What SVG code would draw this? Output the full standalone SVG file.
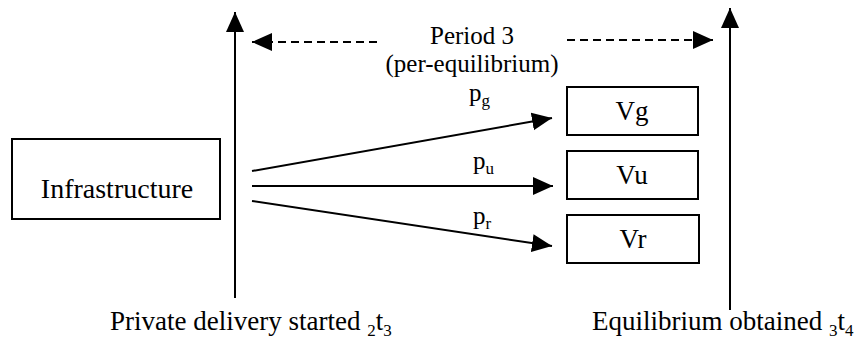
<svg xmlns="http://www.w3.org/2000/svg" width="854" height="354" viewBox="0 0 854 354" font-family="'Liberation Serif', 'DejaVu Serif', 'Times New Roman', serif">
<style>
text{font-family:'Liberation Serif','DejaVu Serif','Times New Roman',serif;fill:#000}
.lbl{font-size:27px}
.per{font-size:25px}
.p{font-size:25px}
.sub{font-size:17px}
.box{fill:#fff;stroke:#000;stroke-width:2}
.ln{stroke:#000;stroke-width:2;fill:none}
.dash{stroke:#000;stroke-width:2;fill:none;stroke-dasharray:8 5}
</style>
<defs>
<marker id="ah" viewBox="0 0 20 20" refX="20" refY="10" markerWidth="20" markerHeight="20" markerUnits="userSpaceOnUse" orient="auto">
<path d="M0,1 L20,10 L0,19 Z" fill="#000"/>
</marker>
</defs>
<rect width="854" height="354" fill="#fff"/>
<g id="connectors">
<line class="ln" x1="235" y1="298" x2="235" y2="12" marker-end="url(#ah)"/>
<line class="ln" x1="730" y1="310" x2="730" y2="8" marker-end="url(#ah)"/>
<line class="dash" x1="377" y1="42" x2="252" y2="42" marker-end="url(#ah)"/>
<line class="dash" x1="567" y1="40" x2="713" y2="40" marker-end="url(#ah)"/>
<line class="ln" x1="252" y1="171" x2="552" y2="118" marker-end="url(#ah)"/>
<line class="ln" x1="252" y1="186" x2="553" y2="186" marker-end="url(#ah)"/>
<line class="ln" x1="252" y1="201" x2="552" y2="246" marker-end="url(#ah)"/>
<text class="p" x="469" y="101">p<tspan class="sub" dy="5">g</tspan></text>
<text class="p" x="473" y="169">p<tspan class="sub" dy="5">u</tspan></text>
<text class="p" x="473" y="224">p<tspan class="sub" dy="5">r</tspan></text>
</g>
<g id="period">
<text class="per" x="472" y="44" text-anchor="middle">Period 3</text>
<text class="per" x="472" y="72" text-anchor="middle">(per-equilibrium)</text>
</g>
<g id="infrastructure">
<rect class="box" x="12" y="139" width="208" height="80"/>
<text class="lbl" x="117" y="198" text-anchor="middle" style="font-size:28px">Infrastructure</text>
</g>
<g id="vg">
<rect class="box" x="567" y="87" width="131" height="48"/>
<text class="lbl" x="632" y="120" text-anchor="middle">Vg</text>
</g>
<g id="vu">
<rect class="box" x="567" y="151" width="131" height="48"/>
<text class="lbl" x="632" y="184" text-anchor="middle">Vu</text>
</g>
<g id="vr">
<rect class="box" x="567" y="215" width="132" height="48"/>
<text class="lbl" x="633" y="248" text-anchor="middle">Vr</text>
</g>
<g id="label-start">
<text class="lbl" x="110" y="330">Private delivery started <tspan class="sub" dy="6">2</tspan><tspan dy="-6">t</tspan><tspan class="sub" dy="6">3</tspan></text>
</g>
<g id="label-end">
<text class="lbl" x="592" y="330">Equilibrium obtained <tspan class="sub" dy="6">3</tspan><tspan dy="-6">t</tspan><tspan class="sub" dy="6">4</tspan></text>
</g>
</svg>
